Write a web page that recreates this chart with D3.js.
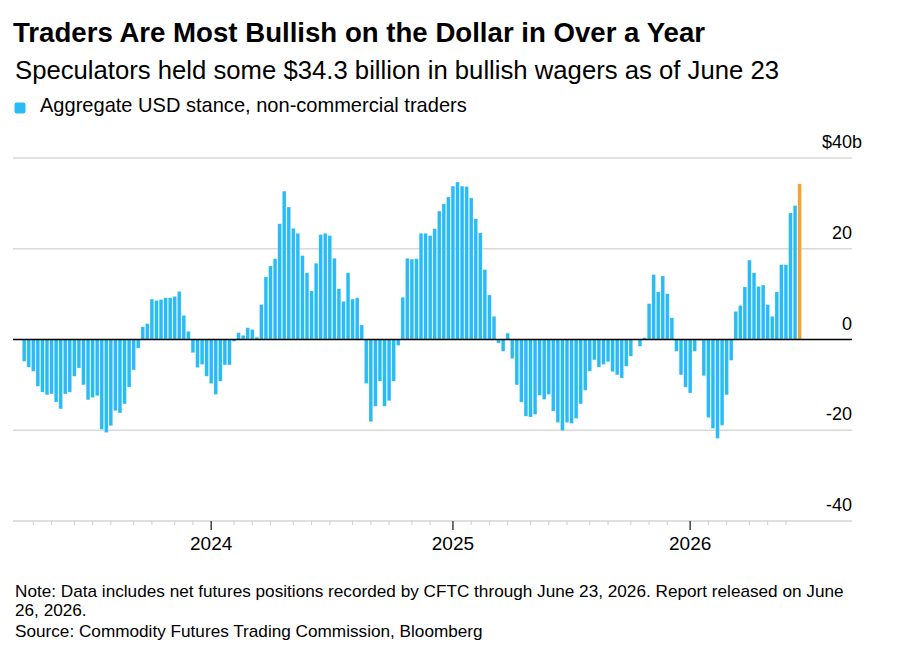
<!DOCTYPE html>
<html>
<head>
<meta charset="utf-8">
<script src="https://cdn.jsdelivr.net/npm/d3@7"></script>
<style>
  body { margin: 0; background: #fff; }
  svg { font-family: "Liberation Sans", Arial, Helvetica, sans-serif; }
</style>
</head>
<body>
<svg class="chart"></svg>
<script>
const size = {w: 909, h: 670};

// weekly CFTC report dates, Tuesdays
const firstWeek = new Date(Date.UTC(2023, 2, 21));
const lastWeek = new Date(Date.UTC(2026, 5, 23));
const weeks = d3.utcDay.range(firstWeek, d3.utcDay.offset(lastWeek, 1), 7);

// aggregate USD stance, $ billions
const stance = [
  -4.8, -6.1, -7.0, -10.3, -11.6, -12.2, -12.0, -13.8, -15.3, -12.0, -11.6, -8.1, -6.3,
  -10.0, -13.3, -12.8, -12.4, -19.8, -20.5, -19.0, -15.7, -16.2, -14.2, -10.5, -6.7, -1.9,
  2.8, 3.5, 8.9, 8.6, 8.8, 9.2, 9.2, 9.5, 10.6, 5.3, 1.8, -2.9, -6.2, -5.5,
  -8.1, -9.7, -12.1, -9.2, -5.6, -5.6, -0.4, 1.5, 0.9, 2.6, 2.2, 0.5, 7.7, 13.8,
  16.2, 17.8, 25.5, 32.7, 29.2, 24.5, 23.4, 18.5, 14.7, 10.7, 16.8, 23.1, 23.4, 22.9,
  17.9, 11.2, 8.4, 14.7, 8.9, 9.2, 3.2, -9.7, -18.1, -14.7, -9.2, -14.7, -13.5, -9.2,
  -1.3, 9.3, 17.9, 17.7, 17.8, 23.4, 23.4, 22.9, 24.4, 28.3, 29.9, 31.4, 33.8, 34.7,
  33.8, 33.7, 31.2, 26.6, 23.5, 15.4, 9.8, 5.1, -0.8, -2.6, 1.4, -4.2, -10.0, -13.8, -16.9,
  -17.1, -16.5, -12.3, -13.2, -12.1, -15.8, -18.3, -20.1, -18.3, -18.5, -17.4, -14.2,
  -11.2, -7.0, -4.5, -6.1, -5.5, -4.9, -7.1, -7.8, -8.5, -5.9, -3.7, 0, -1.5, 0.4, 7.9, 14.3,
  10.5, 14.0, 10.1, 4.8, -2.6, -7.8, -10.5, -11.8, -2.6, -0.2, -8.0, -17.2, -19.6, -21.8,
  -18.9, -12.2, -4.6, 6.2, 7.5, 11.6, 17.5, 14.7, 11.7, 12.0, 7.7, 5.1, 10.5, 16.5, 16.5,
  27.9, 29.5, 34.3
];

const yTicks = [40, 20, 0, -20, -40];

const title = 'Traders Are Most Bullish on the Dollar in Over a Year';
const subtitle = 'Speculators held some $34.3 billion in bullish wagers as of June 23';
const legendLabel = 'Aggregate USD stance, non-commercial traders';
const notes = [
  'Note: Data includes net futures positions recorded by CFTC through June 23, 2026. Report released on June',
  '26, 2026.',
  'Source: Commodity Futures Trading Commission, Bloomberg'
];

const blue = '#29bbf5';
const orange = '#f9a12e';

const data = weeks.map((d, i) => ({date: d, value: stance[i], i: i}));

const svg = d3.select('svg.chart')
    .attr('width', size.w)
    .attr('height', size.h);

// scales
const plot = {left: 13, right: 852, top: 158, bottom: 521};

const x = d3.scaleBand()
    .domain(data.map(d => d.i))
    .range([21.9, 801.9])
    .paddingInner(0.19)
    .paddingOuter(0.095);

const y = d3.scaleLinear()
    .domain([-40, 40])
    .range([plot.bottom, plot.top]);

// shrink or grow a text so it spans the wanted width
function fitWidth(sel, width) {
    const w = sel.node().getComputedTextLength();
    const fs = parseFloat(sel.attr('font-size'));
    sel.attr('font-size', (fs * width / w).toFixed(2));
    return +sel.attr('font-size');
}

// header
const titleText = svg.append('text')
    .attr('x', 13).attr('y', 42)
    .attr('font-size', 24)
    .attr('font-weight', 'bold')
    .attr('fill', '#000')
    .text(title);
fitWidth(titleText, 692);

const subText = svg.append('text')
    .attr('x', 15).attr('y', 79)
    .attr('font-size', 21)
    .attr('fill', '#000')
    .text(subtitle);
fitWidth(subText, 764);

svg.append('rect')
    .attr('x', 14.5).attr('y', 102.5)
    .attr('width', 11).attr('height', 11)
    .attr('rx', 2)
    .attr('fill', blue);

const legText = svg.append('text')
    .attr('x', 40).attr('y', 112)
    .attr('font-size', 17)
    .attr('fill', '#000')
    .text(legendLabel);
fitWidth(legText, 427);

// grid lines
const grid = svg.append('g').classed('grid', true);
grid.selectAll('line')
    .data(yTicks.filter(t => t !== 0 && t !== -40))
    .join('line')
    .attr('x1', plot.left).attr('x2', plot.right)
    .attr('y1', d => y(d)).attr('y2', d => y(d))
    .attr('stroke', '#d9d9d9')
    .attr('stroke-width', 1.3);

// y labels sit above their grid line, right aligned
const yLab = svg.append('g').classed('y-labels', true)
    .attr('font-size', 18)
    .attr('fill', '#000')
    .attr('text-anchor', 'end');
yLab.selectAll('text')
    .data(yTicks)
    .join('text')
    .attr('x', plot.right)
    .attr('y', d => y(d) - 10)
    .text(d => d === 40 ? '$' + d : d);
yLab.append('text')
    .attr('x', plot.right)
    .attr('y', y(40) - 10)
    .attr('text-anchor', 'start')
    .text('b');

// x axis: month ticks on the first report week of each month
const monthStarts = data.filter(d => {
    const prev = data[d.i - 1];
    return d.date.getUTCDate() <= 7 && (!prev || prev.date.getUTCMonth() !== d.date.getUTCMonth());
});

const xAxis = svg.append('g').classed('x-axis', true);
xAxis.append('line')
    .attr('x1', plot.left).attr('x2', plot.right)
    .attr('y1', plot.bottom).attr('y2', plot.bottom)
    .attr('stroke', '#d4d4d4')
    .attr('stroke-width', 1.3);

const cx = d => x(d.i) + x.bandwidth() / 2;
const isYear = d => d.date.getUTCMonth() === 0;

xAxis.selectAll('line.tick')
    .data(monthStarts)
    .join('line')
    .classed('tick', true)
    .attr('x1', cx).attr('x2', cx)
    .attr('y1', plot.bottom)
    .attr('y2', d => plot.bottom + (isYear(d) ? 9 : 4))
    .attr('stroke', d => isYear(d) ? '#333' : '#cfcfcf')
    .attr('stroke-width', d => isYear(d) ? 1.4 : 1);

xAxis.selectAll('text')
    .data(monthStarts.filter(isYear))
    .join('text')
    .attr('x', cx)
    .attr('y', 550)
    .attr('text-anchor', 'middle')
    .attr('font-size', 19)
    .attr('fill', '#000')
    .text(d => d.date.getUTCFullYear());

// bars
svg.append('g').classed('bars', true)
    .selectAll('rect')
    .data(data)
    .join('rect')
    .attr('x', d => x(d.i))
    .attr('width', x.bandwidth())
    .attr('y', d => y(Math.max(0, d.value)))
    .attr('height', d => Math.abs(y(d.value) - y(0)))
    .attr('fill', (d, i) => i === data.length - 1 ? orange : blue)
    .attr('stroke', '#fff')
    .attr('stroke-opacity', 0.35)
    .attr('stroke-width', 0.6);

// zero line on top of bars
svg.append('line')
    .attr('x1', plot.left).attr('x2', plot.right)
    .attr('y1', y(0)).attr('y2', y(0))
    .attr('stroke', '#000')
    .attr('stroke-width', 1.3);

// footer notes
const noteG = svg.append('g').classed('notes', true).attr('fill', '#000');
const note0 = noteG.append('text')
    .attr('x', 15).attr('y', 597)
    .attr('font-size', 15)
    .text(notes[0]);
const noteSize = fitWidth(note0, 829);
noteG.selectAll('text.more')
    .data(notes.slice(1))
    .join('text')
    .classed('more', true)
    .attr('x', 15)
    .attr('y', (d, i) => 616 + i * 21)
    .attr('font-size', noteSize)
    .text(d => d);
</script>
</body>
</html>
